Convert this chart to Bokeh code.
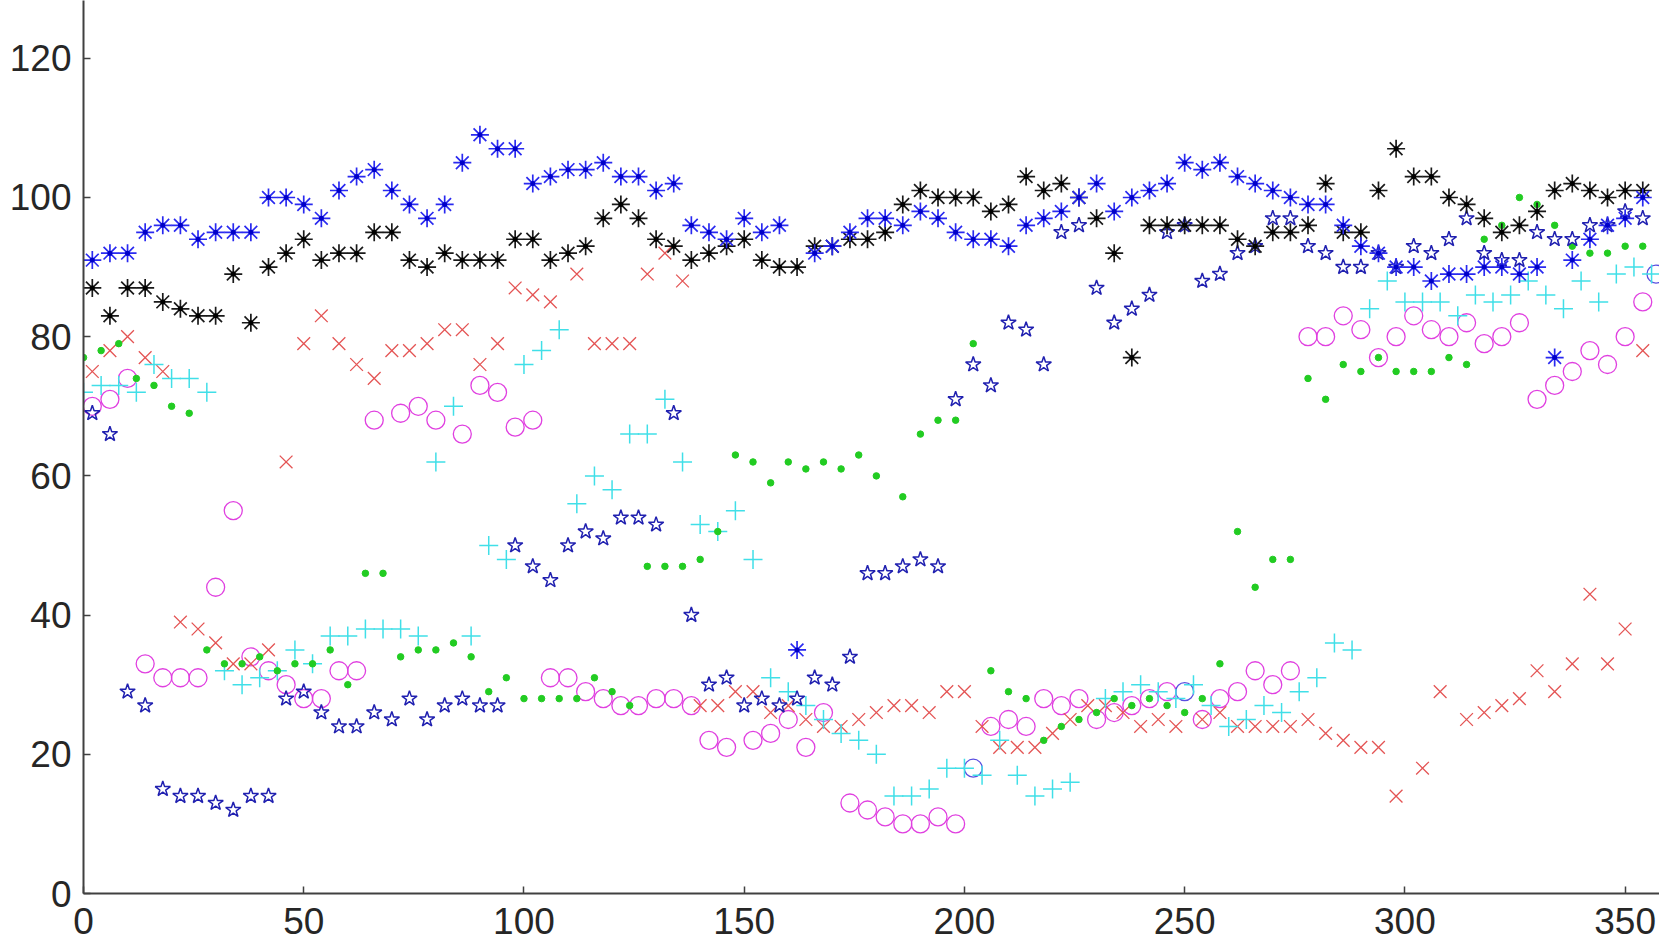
from bokeh.plotting import figure
from bokeh.models import FixedTicker
from bokeh.embed import file_html
from bokeh.resources import INLINE

# ---------------- data ----------------
x_ticks = [0, 50, 100, 150, 200, 250, 300, 350]
y_ticks = [0, 20, 40, 60, 80, 100, 120]

grid_x = [2, 6, 10, 14, 18, 22, 26, 30, 34, 38, 42, 46, 50, 54, 58, 62, 66,
          70, 74, 78, 82, 86, 90, 94, 98, 102, 106, 110, 114, 118, 122, 126, 130,
          134, 138, 142, 146, 150, 154, 158, 162, 166, 170, 174, 178, 182, 186, 190, 194,
          198, 202, 206, 210, 214, 218, 222, 226, 230, 234, 238, 242, 246, 250, 254, 258,
          262, 266, 270, 274, 278, 282, 286, 290, 294, 298, 302, 306, 310, 314, 318, 322,
          326, 330, 334, 338, 342, 346, 350, 354]

blue_ast_y = [91, 92, 92, 95, 96, 96, 94, 95, 95, 95, 100, 100, 99, 97, 101, 103, 104,
              101, 99, 97, 99, 105, 109, 107, 107, 102, 103, 104, 104, 105, 103, 103, 101,
              102, 96, 95, 94, 97, 95, 96, 35, 92, 93, 95, 97, 97, 96, 98, 97,
              95, 94, 94, 93, 96, 97, 98, 100, 102, 98, 100, 101, 102, 105, 104, 105,
              103, 102, 101, 100, 99, 99, 96, 93, 92, 90, 90, 88, 89, 89, 90, 90,
              89, 90, 77, 91, 94, 96, 97, 100]

black_ast_y = [87, 83, 87, 87, 85, 84, 83, 83, 89, 82, 90, 92, 94, 91, 92, 92, 95,
               95, 91, 90, 92, 91, 91, 91, 94, 94, 91, 92, 93, 97, 99, 97, 94,
               93, 91, 92, 93, 94, 91, 90, 90, 93, 93, 94, 94, 95, 99, 101, 100,
               100, 100, 98, 99, 103, 101, 102, 100, 97, 92, 77, 96, 96, 96, 96, 96,
               94, 93, 95, 95, 96, 102, 95, 95, 101, 107, 103, 103, 100, 99, 97, 95,
               96, 98, 101, 102, 101, 100, 101, 101]

pent_y = [69, 66, 29, 27, 15, 14, 14, 13, 12, 14, 14, 28, 29, 26, 24, 24, 26,
          25, 28, 25, 27, 28, 27, 27, 50, 47, 45, 50, 52, 51, 54, 54, 53,
          69, 40, 30, 31, 27, 28, 27, 28, 31, 30, 34, 46, 46, 47, 48, 47,
          71, 76, 73, 82, 81, 76, 95, 96, 87, 82, 84, 86, 95, 96, 88, 89,
          92, 93, 97, 97, 93, 92, 90, 90, 92, 90, 93, 92, 94, 97, 92, 91,
          91, 95, 94, 94, 96, 96, 98, 97]

red_x = [2, 6, 10, 14, 18, 22, 26, 30, 34, 38, 42, 46,
         50, 54, 58, 62, 66, 70, 74, 78, 82, 86, 90, 94, 98, 102, 106,
         112, 116, 120, 124, 128, 132, 136,
         140, 144, 148, 152, 156, 160, 164, 168, 172, 176, 180, 184, 188, 192, 196, 200,
         204, 208, 212, 216, 220, 224, 228, 232, 236, 240, 244, 248,
         254, 258, 262, 266, 270, 274, 278, 282, 286, 290, 294, 298, 304, 308,
         314, 318, 322, 326, 330, 334, 338, 342, 346, 350, 354]
red_y = [75, 78, 80, 77, 75, 39, 38, 36, 33, 33, 35, 62,
         79, 83, 79, 76, 74, 78, 78, 79, 81, 81, 76, 79, 87, 86, 85,
         89, 79, 79, 79, 89, 92, 88,
         27, 27, 29, 29, 26, 27, 25, 24, 24, 25, 26, 27, 27, 26, 29, 29,
         24, 21, 21, 21, 23, 25, 27, 27, 26, 24, 25, 24,
         25, 26, 24, 24, 24, 24, 25, 23, 22, 21, 21, 14, 18, 29,
         25, 26, 27, 28, 32, 29, 33, 43, 33, 38, 78]

green_x = [0, 4, 8, 12, 16, 20, 24, 28, 32, 36, 40, 44, 48, 52, 56, 60, 64, 68,
           72, 76, 80, 84, 88, 92, 96, 100, 104, 108, 112, 116, 120, 124,
           128, 132, 136, 140, 144, 148, 152, 156, 160, 164, 168, 172, 176, 180,
           186, 190, 194, 198, 202,
           206, 210, 214, 218, 222, 226, 230, 234, 238, 242, 246, 250, 254, 258,
           262, 266, 270, 274,
           278, 282, 286, 290, 294, 298, 302, 306, 310, 314, 318, 322, 326, 330,
           334, 338, 342, 346, 350, 354]
green_y = [77, 78, 79, 74, 73, 70, 69, 35, 33, 33, 34, 32, 33, 33, 35, 30, 46, 46,
           34, 35, 35, 36, 34, 29, 31, 28, 28, 28, 28, 31, 29, 27,
           47, 47, 47, 48, 52, 63, 62, 59, 62, 61, 62, 61, 63, 60,
           57, 66, 68, 68, 79,
           32, 29, 28, 22, 24, 25, 26, 28, 27, 28, 27, 26, 28, 33,
           52, 44, 48, 48,
           74, 71, 76, 75, 77, 75, 75, 75, 77, 76, 94, 96, 100, 99,
           96, 93, 92, 92, 93, 93]

cyan_x = [0, 4, 8, 12, 16, 20, 24, 28, 32, 36, 40, 44, 48, 52, 56, 60, 64, 68,
          72, 76, 80, 84, 88, 92, 96, 100, 104, 108, 112, 116, 120, 124, 128, 132,
          136, 140, 144, 148, 152, 156, 160, 164, 168, 172, 176, 180, 184, 188,
          192, 196, 200, 204, 208, 212, 216, 220, 224, 232, 236, 240, 244, 248,
          252, 256, 260, 264, 268, 272, 276, 280, 284, 288, 292, 296, 300, 304,
          308, 312, 316, 320, 324, 328, 332, 336, 340, 344, 348, 352, 356]
cyan_y = [72, 73, 73, 72, 76, 74, 74, 72, 32, 30, 31, 32, 35, 33, 37, 37, 38, 38,
          38, 37, 62, 70, 37, 50, 48, 76, 78, 81, 56, 60, 58, 66, 66, 71,
          62, 53, 52, 55, 48, 31, 29, 27, 25, 23, 22, 20, 14, 14,
          15, 18, 18, 17, 22, 17, 14, 15, 16, 28, 29, 30, 29, 28,
          30, 27, 24, 25, 27, 26, 29, 31, 36, 35, 84, 88, 85, 85,
          85, 83, 86, 85, 86, 88, 86, 84, 88, 85, 89, 90, 89]

mag_x = [2, 6, 10, 14, 18, 22, 26, 30, 34, 38, 42, 46, 50, 54, 58, 62,
         66, 72, 76, 80, 86, 90, 94, 98, 102,
         106, 110, 114, 118, 122, 126, 130, 134, 138, 142, 146, 152, 156, 160, 164, 168,
         174, 178, 182, 186, 190, 194, 198,
         206, 210, 214, 218, 222, 226, 230, 234, 238, 242, 246, 254, 258, 262, 266, 270, 274,
         278, 282, 286, 290, 294, 298, 302, 306, 310, 314, 318, 322, 326, 330, 334,
         338, 342, 346, 350, 354]
mag_y = [70, 71, 74, 33, 31, 31, 31, 44, 55, 34, 32, 30, 28, 28, 32, 32,
         68, 69, 70, 68, 66, 73, 72, 67, 68,
         31, 31, 29, 28, 27, 27, 28, 28, 27, 22, 21, 22, 23, 25, 21, 26,
         13, 12, 11, 10, 10, 11, 10,
         24, 25, 24, 28, 27, 28, 25, 26, 27, 28, 29, 25, 28, 29, 32, 30, 32,
         80, 80, 83, 81, 77, 80, 83, 81, 80, 82, 79, 80, 82, 71, 73,
         75, 78, 76, 80, 85]

bcirc_x = [202, 250, 357]
bcirc_y = [18, 29, 89]

# ---------------- figure ----------------
p = figure(width=1659, height=943, x_range=(0, 357.8), y_range=(0, 128.3),
           output_backend="svg", toolbar_location=None,
           min_border_left=83, min_border_right=0, min_border_top=0, min_border_bottom=50)
p.background_fill_color = "white"
p.border_fill_color = "white"
p.outline_line_color = None
p.xgrid.visible = False
p.ygrid.visible = False

p.xaxis.ticker = FixedTicker(ticks=x_ticks)
p.yaxis.ticker = FixedTicker(ticks=y_ticks)
for ax in (p.xaxis[0], p.yaxis[0]):
    ax.axis_line_color = "#404040"
    ax.axis_line_width = 2
    ax.major_tick_line_color = "#404040"
    ax.major_tick_line_width = 1.5
    ax.major_tick_in = 7
    ax.major_tick_out = 0
    ax.minor_tick_line_color = None
    ax.major_label_text_font = "Liberation Sans"
    ax.major_label_text_font_size = "37px"
    ax.major_label_text_color = "#262626"
p.xaxis.major_label_standoff = 14
p.yaxis.major_label_standoff = 12

# magenta circles
p.scatter(mag_x, mag_y, marker="circle", size=18, fill_color=None,
          line_color="#e040e0", line_width=1.3)
p.scatter(bcirc_x, bcirc_y, marker="circle", size=18, fill_color=None,
          line_color="#5a4ee0", line_width=1.3)
# red x
p.scatter(red_x, red_y, marker="x", size=18, line_color="#e45454", line_width=1.3)
# cyan plus
p.scatter(cyan_x, cyan_y, marker="cross", size=19, line_color="#40dfe8", line_width=1.5)
# green dots
p.scatter(green_x, green_y, marker="circle", size=6.5, fill_color="#22cc22",
          line_color="#22cc22")
# pentagrams
p.scatter(grid_x, pent_y, marker="star", size=16, fill_color=None,
          line_color="#2020b0", line_width=1.5)
# black asterisks
p.scatter(grid_x, black_ast_y, marker="asterisk", size=18, line_color="#1a1a1a", line_width=1.7)
p.scatter(grid_x, black_ast_y, marker="circle", size=5, fill_color="#000000", line_color=None)
# blue asterisks
p.scatter(grid_x, blue_ast_y, marker="asterisk", size=18, line_color="#2a2af0", line_width=1.7)
p.scatter(grid_x, blue_ast_y, marker="circle", size=5, fill_color="#0000c8", line_color=None)

open("out.html", "w").write(file_html(p, INLINE))
